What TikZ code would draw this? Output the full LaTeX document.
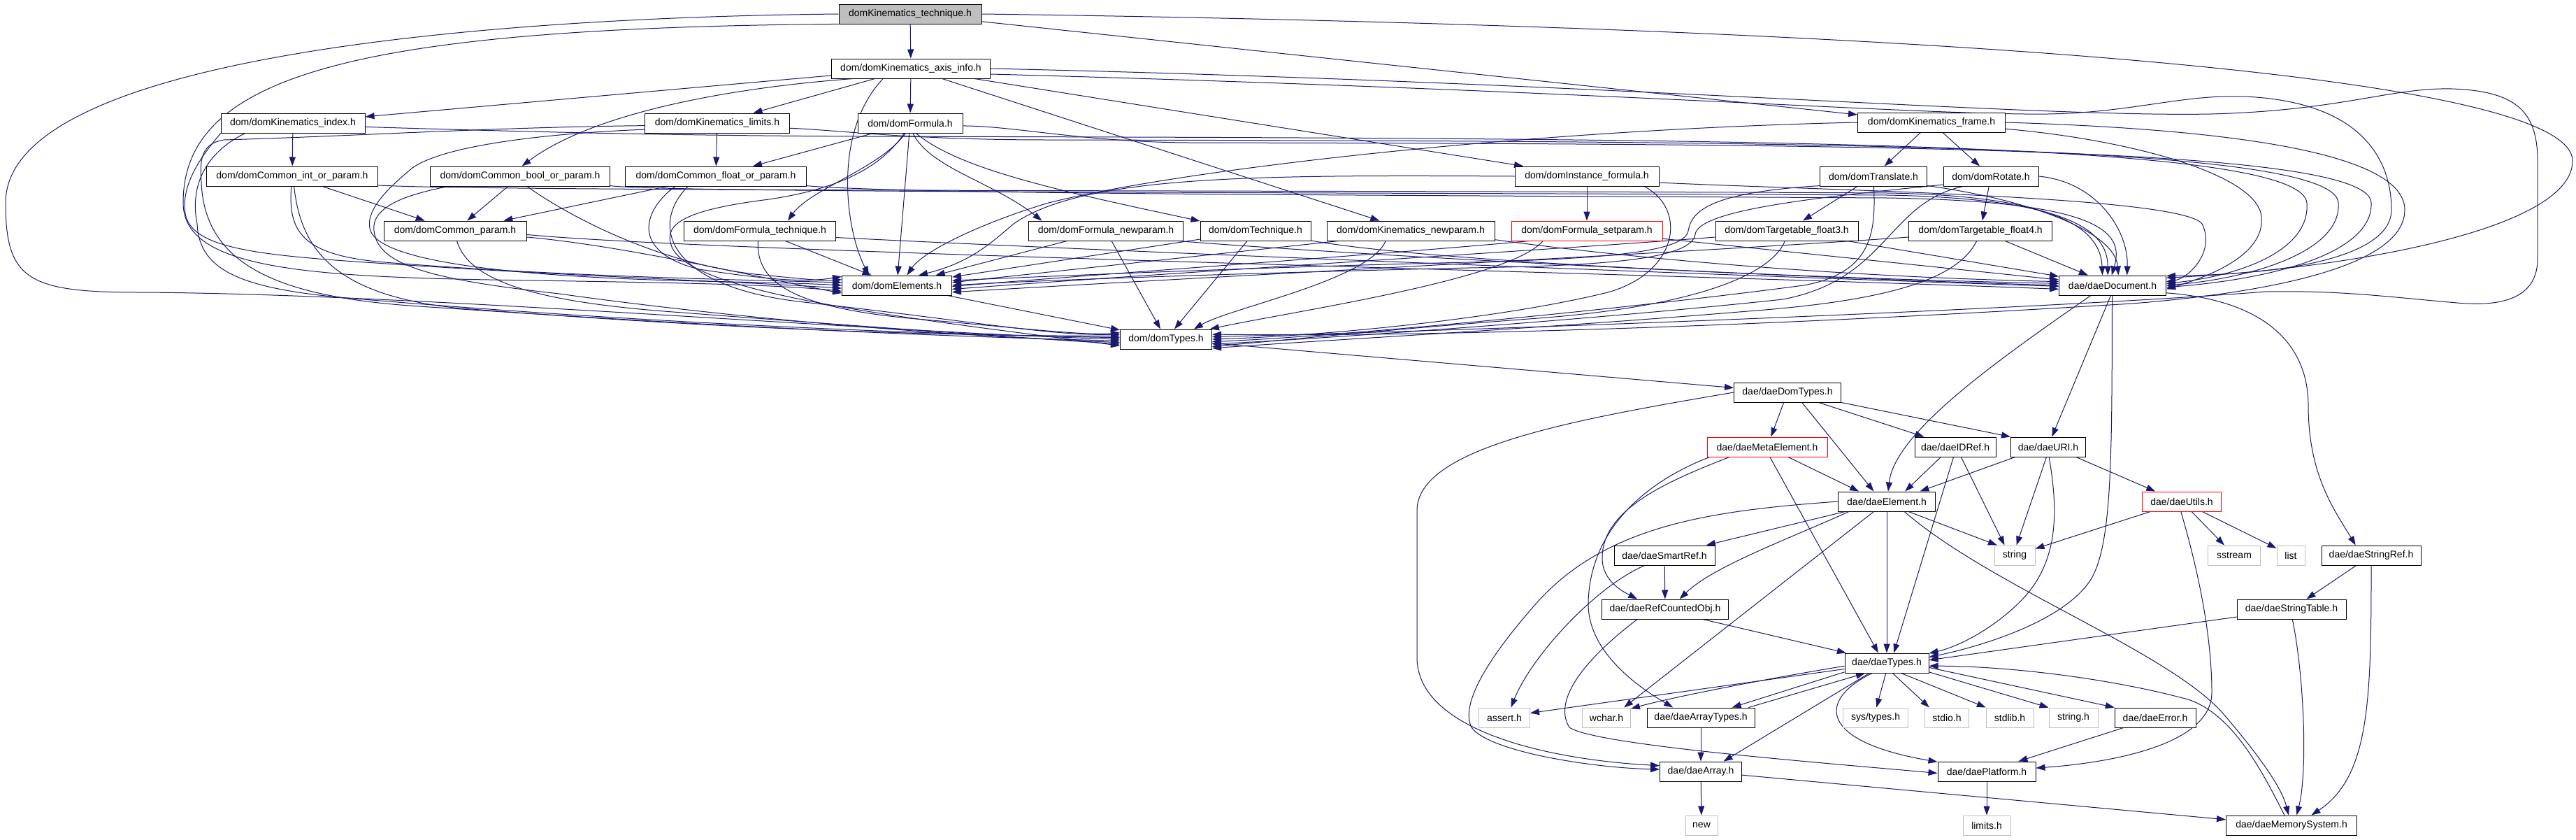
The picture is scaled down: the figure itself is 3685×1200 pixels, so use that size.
\documentclass[tikz,border=0pt]{standalone}
\usepackage{fontspec}
\setmainfont{Liberation Sans}
\usetikzlibrary{arrows.meta}
\definecolor{edgecol}{HTML}{191970}
\definecolor{sysgray}{HTML}{BFBFBF}
\definecolor{rootgray}{HTML}{BFBFBF}
\pgfdeclarelayer{back}
\pgfdeclarelayer{edges}
\pgfsetlayers{back,edges,main}
\begin{document}
\begin{tikzpicture}[x=1pt,y=-1pt,
 every node/.style={font=\fontsize{14}{16}\selectfont, inner sep=0pt},
 nb/.style={draw=black, line width=1pt, fill=white, minimum height=28pt, minimum width=#1},
 nr/.style={nb=#1, draw=red},
 ns/.style={nb=#1, draw=sysgray},
 nroot/.style={nb=#1, fill=rootgray},
 edg/.style={draw=edgecol, line width=1pt, -{Triangle[length=13pt,width=9pt]}}]
\begin{pgfonlayer}{back}
\fill[white] (0,0) rectangle (3685,1200);
\end{pgfonlayer}
\useasboundingbox (0,0) rectangle (3685,1200);
% ---------------- nodes
\node[nroot=204] (T) at (1302,20) {domKinematics\_technique.h};
\node[nb=227] (AX) at (1303,98) {dom/domKinematics\_axis\_info.h};
\node[nb=206] (IDX) at (419,176) {dom/domKinematics\_index.h};
\node[nb=207] (LIM) at (1026,176) {dom/domKinematics\_limits.h};
\node[nb=150] (FOR) at (1302,176) {dom/domFormula.h};
\node[nb=211] (FRM) at (2763,175) {dom/domKinematics\_frame.h};
\node[nb=245] (INT) at (418,252) {dom/domCommon\_int\_or\_param.h};
\node[nb=257] (BOOL) at (744,252) {dom/domCommon\_bool\_or\_param.h};
\node[nb=259] (FLT) at (1024,252) {dom/domCommon\_float\_or\_param.h};
\node[nb=206] (INF) at (2270,252) {dom/domInstance\_formula.h};
\node[nb=153] (TRA) at (2680,252) {dom/domTranslate.h};
\node[nb=136] (ROT) at (2848,252) {dom/domRotate.h};
\node[nb=204] (CP) at (651,330) {dom/domCommon\_param.h};
\node[nb=217] (FTE) at (1087,330) {dom/domFormula\_technique.h};
\node[nb=221] (FNP) at (1582,330) {dom/domFormula\_newparam.h};
\node[nb=158] (TEC) at (1796,330) {dom/domTechnique.h};
\node[nb=240] (KNP) at (2018,330) {dom/domKinematics\_newparam.h};
\node[nr=216] (FSP) at (2270,330) {dom/domFormula\_setparam.h};
\node[nb=204] (TF3) at (2556,330) {dom/domTargetable\_float3.h};
\node[nb=205] (TF4) at (2833,330) {dom/domTargetable\_float4.h};
\node[nb=157] (EL) at (1283,408) {dom/domElements.h};
\node[nb=153] (DOC) at (3022,408) {dae/daeDocument.h};
\node[nb=131] (DT) at (1668,485) {dom/domTypes.h};
\node[nb=153] (DDT) at (2557,561) {dae/daeDomTypes.h};
\node[nr=172] (ME) at (2528,639) {dae/daeMetaElement.h};
\node[nb=116] (IDR) at (2797,639) {dae/daeIDRef.h};
\node[nb=107] (URI) at (2930,639) {dae/daeURI.h};
\node[nb=139] (ELM) at (2699,717) {dae/daeElement.h};
\node[nr=113] (UT) at (3121,717) {dae/daeUtils.h};
\node[nb=144] (SR) at (2381,794) {dae/daeSmartRef.h};
\node[ns=58] (STR) at (2882,794) {string};
\node[ns=75] (SS) at (3196,794) {sstream};
\node[ns=40] (LST) at (3277,794) {list};
\node[nb=142] (SRF) at (3392,794) {dae/daeStringRef.h};
\node[nb=181] (RCO) at (2382,871) {dae/daeRefCountedObj.h};
\node[nb=156] (STB) at (3278,871) {dae/daeStringTable.h};
\node[nb=120] (TY) at (2699,948) {dae/daeTypes.h};
\node[ns=73] (AS) at (2152,1026) {assert.h};
\node[ns=69] (WC) at (2298,1026) {wchar.h};
\node[nb=154] (AT) at (2433,1026) {dae/daeArrayTypes.h};
\node[ns=93] (SYS) at (2683,1026) {sys/types.h};
\node[ns=63] (STD) at (2785,1026) {stdio.h};
\node[ns=68] (SLB) at (2875,1026) {stdlib.h};
\node[ns=70] (SH) at (2966,1026) {string.h};
\node[nb=116] (ERR) at (3083,1026) {dae/daeError.h};
\node[nb=117] (ARR) at (2433,1103) {dae/daeArray.h};
\node[nb=140] (PLT) at (2842,1103) {dae/daePlatform.h};
\node[ns=46] (NEW) at (2434,1180) {new};
\node[ns=68] (LIM2) at (2842,1180) {limits.h};
\node[nb=187] (MEM) at (3278,1180) {dae/daeMemorySystem.h};
% ---------------- edges
\begin{pgfonlayer}{edges}
% root
\draw[edg] (T) -- (AX);
\draw[edg] (T) -- (FRM);
\draw[edg] (T.east) .. controls (2500,35) and (3680,90) .. (3680,230) .. controls (3680,330) and (3350,385) .. (DOC.8);
\draw[edg] (T.west) .. controls (700,25) and (8,80) .. (8,290) .. controls (8,400) and (40,418) .. (200,418) .. controls (600,420) and (1250,475) .. (DT.180);
\draw[edg] (T.188) .. controls (500,40) and (262,110) .. (262,290) .. controls (262,380) and (420,395) .. (700,400) .. controls (950,404) and (1100,406) .. (EL.186);
% axis_info
\draw[edg] (AX) -- (IDX);
\draw[edg] (AX) -- (LIM);
\draw[edg] (AX) -- (FOR);
\draw[edg] (AX.-170) .. controls (1050,125) and (850,160) .. (BOOL.80);
\draw[edg] (AX) -- (KNP);
\draw[edg] (AX) -- (INF);
\draw[edg] (AX.-160) .. controls (1190,190) and (1210,330) .. (EL.160);
\draw[edg] (AX.east) .. controls (2300,118) and (2900,168) .. (3163,163) .. controls (3350,158) and (3420,125) .. (3507,127) .. controls (3600,130) and (3630,160) .. (3630,230) -- (3630,370) .. controls (3630,420) and (3590,440) .. (3515,433) .. controls (3420,425) and (3350,415) .. (3241,417) .. controls (2950,440) and (2200,470) .. (DT.3);
\draw[edg] (AX.-4) .. controls (2300,130) and (2750,165) .. (2929,163) .. controls (3050,161) and (3120,135) .. (3210,138) .. controls (3380,145) and (3421,230) .. (3421,300) .. controls (3421,360) and (3300,392) .. (DOC.10);
% index
\draw[edg] (IDX) -- (INT);
\draw[edg] (IDX.-172) .. controls (295,215) and (258,260) .. (265,305) .. controls (272,350) and (350,362) .. (480,372) .. controls (800,395) and (1050,402) .. (EL.183);
\draw[edg] (IDX.-168) .. controls (300,215) and (270,260) .. (282,320) .. controls (285,390) and (350,415) .. (520,428) .. controls (900,460) and (1300,478) .. (DT.178);
\draw[edg] (IDX.-3) .. controls (800,190) and (1000,194) .. (1230,195) .. controls (2500,198) and (3290,200) .. (3300,290) .. controls (3305,360) and (3200,395) .. (DOC.2);
% limits
\draw[edg] (LIM) -- (FLT);
\draw[edg] (LIM.185) .. controls (800,190) and (640,205) .. (590,240) .. controls (560,265) and (520,300) .. (530,330) .. controls (545,370) and (700,395) .. (1000,402) .. controls (1100,404) and (1150,405) .. (EL.180);
\draw[edg] (LIM.182) .. controls (700,182) and (500,195) .. (320,200) .. controls (290,205) and (285,225) .. (288,260) .. controls (292,380) and (400,425) .. (600,438) .. controls (1000,465) and (1300,480) .. (DT.182);
\draw[edg] (LIM.-4) .. controls (1200,186) and (1300,200) .. (1500,200) .. controls (2600,202) and (3340,205) .. (3345,290) .. controls (3350,360) and (3220,398) .. (DOC.0);
% int_or_param
\draw[edg] (INT) -- (CP);
\draw[edg] (INT.-95) .. controls (412,330) and (430,365) .. (550,375) .. controls (800,395) and (1050,400) .. (EL.177);
\draw[edg] (INT.-80) .. controls (430,350) and (470,420) .. (650,440) .. controls (1000,468) and (1300,480) .. (DT.176);
\draw[edg] (INT.-6) .. controls (700,274) and (2000,272) .. (2700,276) .. controls (2950,280) and (3005,330) .. (DOC.135);
% bool_or_param
\draw[edg] (BOOL) -- (CP);
\draw[edg] (BOOL.-55) .. controls (800,300) and (930,375) .. (1080,392) .. controls (1140,398) and (1180,402) .. (EL.174);
\draw[edg] (BOOL.-172) .. controls (600,275) and (530,290) .. (535,330) .. controls (540,380) and (620,400) .. (800,420) .. controls (1050,455) and (1350,480) .. (DT.184);
\draw[edg] (BOOL.-6) .. controls (950,276) and (2000,275) .. (2700,279) .. controls (2960,284) and (3015,330) .. (DOC.115);
% float_or_param
\draw[edg] (FLT) -- (CP);
\draw[edg] (FLT.-166) .. controls (920,300) and (900,360) .. (1000,385) .. controls (1100,400) and (1150,404) .. (EL.171);
\draw[edg] (FLT.-160) .. controls (930,320) and (950,410) .. (1150,432) .. controls (1400,460) and (1500,480) .. (DT.174);
\draw[edg] (FLT.-6) .. controls (1300,278) and (2000,279) .. (2700,283) .. controls (3000,288) and (3040,330) .. (DOC.95);
% common_param
\draw[edg] (CP.-5) .. controls (900,352) and (1100,400) .. (EL.188);
\draw[edg] (CP.-80) .. controls (670,400) and (760,430) .. (950,445) .. controls (1250,468) and (1450,482) .. (DT.186);
\draw[edg] (CP.-3) .. controls (1000,360) and (2400,392) .. (DOC.-176);
% formula_technique
\draw[edg] (FTE) -- (EL);
\draw[edg] (FTE.-100) .. controls (1080,410) and (1150,440) .. (1300,455) .. controls (1450,468) and (1550,480) .. (DT.172);
\draw[edg] (FTE.-5) .. controls (1600,360) and (2500,395) .. (DOC.-179);
% formula
\draw[edg] (FOR.-75) .. controls (1330,240) and (1420,260) .. (FNP.171);
\draw[edg] (FOR.-60) .. controls (1370,240) and (1500,270) .. (TEC.170);
\draw[edg] (FOR.-115) .. controls (1260,240) and (1160,270) .. (FTE.20);
\draw[edg] (FOR) -- (FLT);
\draw[edg] (FOR) -- (EL);
\draw[edg] (FOR.-120) .. controls (1260,240) and (1200,270) .. (1100,285) .. controls (980,300) and (950,320) .. (960,350) .. controls (980,420) and (1300,455) .. (DT.188);
\draw[edg] (FOR.-3) .. controls (1450,180) and (1550,203) .. (1700,204) .. controls (2700,206) and (3390,210) .. (3392,290) .. controls (3395,365) and (3240,400) .. (DOC.-2);
% frame
\draw[edg] (FRM) -- (TRA);
\draw[edg] (FRM) -- (ROT);
\draw[edg] (FRM.west) .. controls (2200,185) and (1700,240) .. (1500,290) .. controls (1400,320) and (1320,360) .. (EL.45);
\draw[edg] (FRM.east) .. controls (3200,185) and (3440,220) .. (3440,300) .. controls (3440,380) and (3250,418) .. (3050,434) .. controls (2600,462) and (2100,482) .. (DT.6);
\draw[edg] (FRM.-5) .. controls (3050,200) and (3230,250) .. (3235,310) .. controls (3240,365) and (3160,395) .. (DOC.-4);
% instance_formula
\draw[edg] (INF) -- (FSP);
\draw[edg] (INF.west) .. controls (1800,250) and (1550,250) .. (1450,320) .. controls (1420,345) and (1390,375) .. (EL.25);
\draw[edg] (INF.-10) .. controls (2415,300) and (2400,390) .. (2300,418) .. controls (2150,455) and (1900,480) .. (DT.0);
\draw[edg] (INF.-5) .. controls (2600,272) and (3120,280) .. (3150,320) .. controls (3170,360) and (3130,398) .. (DOC.4);
% translate
\draw[edg] (TRA) -- (TF3);
\draw[edg] (TRA.-170) .. controls (2450,275) and (2420,300) .. (2415,330) .. controls (2410,360) and (2300,370) .. (2100,375) .. controls (1800,382) and (1500,395) .. (EL.5);
\draw[edg] (TRA.-88) .. controls (2683,330) and (2680,390) .. (2580,408) .. controls (2300,445) and (1900,482) .. (DT.-3);
\draw[edg] (TRA.-10) .. controls (2900,285) and (3025,330) .. (DOC.60);
% rotate
\draw[edg] (ROT) -- (TF4);
\draw[edg] (ROT.-170) .. controls (2600,282) and (2430,300) .. (2425,335) .. controls (2420,370) and (2300,380) .. (2100,383) .. controls (1800,390) and (1500,400) .. (EL.0);
\draw[edg] (ROT.-160) .. controls (2700,290) and (2700,400) .. (2550,428) .. controls (2300,455) and (1900,484) .. (DT.-6);
\draw[edg] (ROT.east) .. controls (3000,260) and (3045,330) .. (DOC.35);
% targetable float3 / float4
\draw[edg] (TF3.-175) .. controls (2300,352) and (1700,388) .. (EL.-4);
\draw[edg] (TF3.-100) .. controls (2530,400) and (2400,440) .. (2200,455) .. controls (2000,470) and (1850,485) .. (DT.-9);
\draw[edg] (TF3) -- (DOC);
\draw[edg] (TF4.-175) .. controls (2500,356) and (1800,392) .. (EL.-7);
\draw[edg] (TF4.-110) .. controls (2800,400) and (2700,430) .. (2500,445) .. controls (2200,470) and (1900,486) .. (DT.-11);
\draw[edg] (TF4) -- (DOC);
% formula_newparam, technique, kinematics_newparam, formula_setparam
\draw[edg] (FNP) -- (EL);
\draw[edg] (FNP) -- (DT);
\draw[edg] (FNP.-8) .. controls (1900,362) and (2500,395) .. (DOC.180);
\draw[edg] (TEC) -- (EL);
\draw[edg] (TEC) -- (DT);
\draw[edg] (TEC.-10) .. controls (2050,375) and (2600,398) .. (DOC.178);
\draw[edg] (KNP.-172) -- (EL.3);
\draw[edg] (KNP.-158) .. controls (1960,400) and (1760,440) .. (DT.20);
\draw[edg] (KNP.-6) .. controls (2300,365) and (2600,395) .. (DOC.176);
\draw[edg] (FSP.-170) .. controls (2000,362) and (1600,390) .. (EL.-1);
\draw[edg] (FSP.-167) .. controls (2160,400) and (1850,445) .. (DT.13);
\draw[edg] (FSP) -- (DOC);
% elements / types
\draw[edg] (EL) -- (DT);
\draw[edg] (DT) -- (DDT);
% daeDocument
\draw[edg] (DOC.-155) .. controls (2850,520) and (2710,620) .. (ELM.82);
\draw[edg] (DOC.-100) -- (URI.70);
\draw[edg] (DOC.-92) .. controls (3021,650) and (3022,780) .. (2990,830) .. controls (2950,890) and (2830,925) .. (TY.8);
\draw[edg] (DOC.-8) .. controls (3250,430) and (3302,500) .. (3302,580) .. controls (3302,680) and (3340,730) .. (SRF.147);
% daeDomTypes
\draw[edg] (DDT) -- (ME);
\draw[edg] (DDT.-35) -- (ELM.142);
\draw[edg] (DDT) -- (IDR);
\draw[edg] (DDT.south east) -- (URI.165);
\draw[edg] (DDT.west) .. controls (2250,600) and (2027,640) .. (2027,730) -- (2027,940) .. controls (2027,1040) and (2200,1085) .. (ARR.172);
% daeMetaElement
\draw[edg] (ME.-170) .. controls (2350,690) and (2275,760) .. (2272,860) .. controls (2270,930) and (2340,980) .. (AT.160);
\draw[edg] (ME.-165) .. controls (2380,690) and (2290,730) .. (2292,800) .. controls (2293,830) and (2320,845) .. (RCO.160);
\draw[edg] (ME) -- (ELM.160);
\draw[edg] (ME.-75) -- (TY.130);
% daeIDRef
\draw[edg] (IDR.-145) -- (ELM.29);
\draw[edg] (IDR.-60) -- (STR.135);
\draw[edg] (IDR.-100) -- (TY.55);
% daeURI
\draw[edg] (URI.-163) -- (ELM.17);
\draw[edg] (URI.-100) -- (STR.80);
\draw[edg] (URI.-20) -- (UT.159);
\draw[edg] (URI.-85) .. controls (2942,720) and (2950,800) .. (2890,860) .. controls (2850,900) and (2800,925) .. (TY.13);
% daeUtils
\draw[edg] (UT) -- (STR);
\draw[edg] (UT) -- (SS);
\draw[edg] (UT) -- (LST);
\draw[edg] (UT.-95) .. controls (3140,800) and (3164,900) .. (3164,990) .. controls (3164,1070) and (3000,1092) .. (PLT.4);
% daeElement
\draw[edg] (ELM) -- (SR);
\draw[edg] (ELM.-165) .. controls (2560,770) and (2450,810) .. (RCO.35);
\draw[edg] (ELM) -- (TY);
\draw[edg] (ELM.-142) -- (WC.30);
\draw[edg] (ELM.west) .. controls (2450,730) and (2300,750) .. (2200,860) .. controls (2120,950) and (2090,1010) .. (2105,1040) .. controls (2130,1075) and (2280,1098) .. (ARR.177);
\draw[edg] (ELM.-25) -- (STR.150);
\draw[edg] (ELM.-30) .. controls (2850,840) and (3100,930) .. (3180,1020) .. controls (3240,1090) and (3265,1130) .. (MEM.106);
% daeSmartRef, daeRefCountedObj
\draw[edg] (SR) -- (RCO);
\draw[edg] (SR.-153) .. controls (2280,840) and (2190,940) .. (AS.57);
\draw[edg] (RCO.-15) -- (TY.166);
\draw[edg] (RCO.-160) .. controls (2270,940) and (2220,1000) .. (2245,1040) .. controls (2280,1065) and (2600,1090) .. (PLT.182);
% string ref / table
\draw[edg] (SRF) -- (STB);
\draw[edg] (SRF.south) .. controls (3392,1000) and (3390,1110) .. (MEM.27);
\draw[edg] (STB.-172) -- (TY.4);
\draw[edg] (STB.-85) .. controls (3295,960) and (3302,1100) .. (MEM.63);
% daeTypes
\draw[edg] (TY.-172) -- (AS.10);
\draw[edg] (TY.-176) .. controls (2500,975) and (2380,1000) .. (WC.20);
\draw[edg] (TY.-168) -- (AT.18);
\draw[edg] (AT.12) -- (TY.-155);
\draw[edg] (TY.-95) -- (SYS.85);
\draw[edg] (TY.-60) -- (STD.150);
\draw[edg] (TY.-35) -- (SLB.157);
\draw[edg] (TY.-12) -- (SH.158);
\draw[edg] (TY.-6) -- (ERR.166);
\draw[edg] (TY.-150) -- (ARR.24);
\draw[edg] (TY.-145) .. controls (2600,1000) and (2600,1060) .. (PLT.169);
% bottom
\draw[edg] (AT) -- (ARR);
\draw[edg] (ARR) -- (NEW);
\draw[edg] (ARR.-5) -- (MEM.175);
\draw[edg] (ERR) -- (PLT);
\draw[edg] (PLT) -- (LIM2);
\draw[edg] (MEM.125) .. controls (3230,1090) and (3190,1020) .. (3130,1000) .. controls (3000,965) and (2850,952) .. (TY.-4);
\end{pgfonlayer}
\end{tikzpicture}
\end{document}
